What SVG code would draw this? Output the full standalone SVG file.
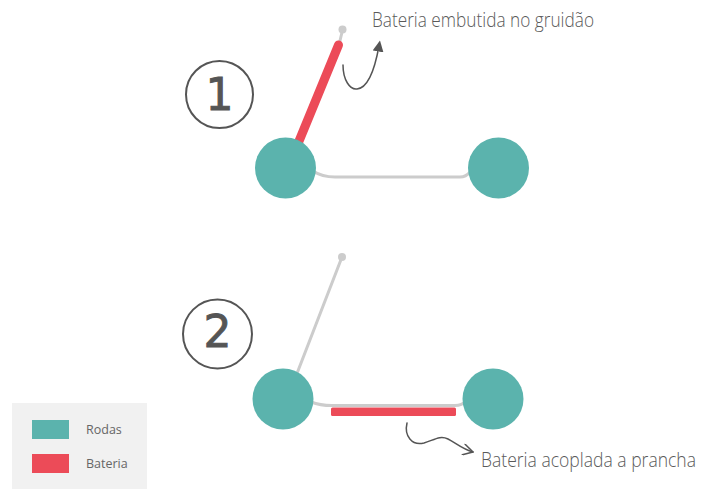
<svg xmlns="http://www.w3.org/2000/svg" width="701" height="489" viewBox="0 0 701 489">
  <style>
    .wheel { fill: #5bb3ad; }
    .battery { fill: #ec4b58; }
    .frame { fill: none; stroke: #cccccc; stroke-width: 3; stroke-linecap: round; }
    .knob { fill: #cccccc; }
    .badge { fill: none; stroke: #555555; stroke-width: 2; }
    .num { font-family: "DejaVu Sans", sans-serif; font-size: 44px; fill: #555555; stroke: #555555; stroke-width: 0.9; text-anchor: middle; }
    .note { font-family: "Open Sans", "Liberation Sans", sans-serif; font-size: 20px; fill: #5a5a5a; font-weight: 300; }
    .pointer { fill: none; stroke: #555555; stroke-width: 1.5; stroke-linecap: round; }
    .legend-text { font-family: "Open Sans", "Liberation Sans", sans-serif; font-size: 12.5px; fill: #666666; }
  </style>
  <defs>
    <marker id="tri" viewBox="0 0 10 10" refX="5" refY="5" markerWidth="11" markerHeight="11" orient="auto" markerUnits="userSpaceOnUse">
      <path d="M0,0 L10,5 L0,10 z" fill="#555555"/>
    </marker>
    <marker id="chev" viewBox="0 0 10 10" refX="9" refY="5" markerWidth="12" markerHeight="12" orient="auto" markerUnits="userSpaceOnUse">
      <path d="M1,0.5 L9,5 L1,9.5" fill="none" stroke="#555555" stroke-width="1.3" stroke-linecap="round" stroke-linejoin="round"/>
    </marker>
  </defs>

  <rect width="701" height="489" fill="#ffffff"/>

  <!-- Scooter 1: battery inside the handlebar stem -->
  <g id="scooter-1">
    <circle class="badge" cx="219.5" cy="94.5" r="33.5"/>
    <text class="num" x="219.5" y="110">1</text>
    <path class="frame" d="M313,171 Q322,177 335,177 L460,177 Q466,177 470,172"/>
    <line class="frame" x1="342.5" y1="30" x2="339" y2="45"/>
    <circle class="knob" cx="342.5" cy="29.5" r="4"/>
    <line x1="338.5" y1="45" x2="297" y2="146" stroke="#ec4b58" stroke-width="9" stroke-linecap="round"/>
    <circle class="wheel" cx="285.5" cy="168" r="30.5"/>
    <circle class="wheel" cx="498.5" cy="168" r="30.5"/>
  </g>

  <!-- Scooter 2: battery under the deck -->
  <g id="scooter-2">
    <circle class="badge" cx="217.5" cy="334" r="34.5"/>
    <text class="num" x="217.5" y="347">2</text>
    <line class="frame" x1="342" y1="257" x2="296" y2="376"/>
    <circle class="knob" cx="342" cy="257" r="4"/>
    <path class="frame" d="M311,402 Q320,405.5 332,405.5 L455,405.5 Q462,405.5 466,401"/>
    <rect class="battery" x="331" y="407.5" width="125" height="8.5" rx="1.5"/>
    <circle class="wheel" cx="283" cy="399" r="30.5"/>
    <circle class="wheel" cx="493" cy="399" r="30.5"/>
  </g>

  <!-- Callouts -->
  <g id="connectors">
    <path class="pointer" d="M343,65 C343,80 350,90 357,89 C368,88 375,68 379,46" marker-end="url(#tri)"/>
    <path class="pointer" d="M407,423 C404,436 412,446 424,443 C434,440 440,435 448,439 C456,443 462,449 473,452" marker-end="url(#chev)"/>
  </g>

  <g id="label-1">
    <text class="note" x="372" y="27" textLength="222" lengthAdjust="spacingAndGlyphs">Bateria embutida no gruidão</text>
  </g>
  <g id="label-2">
    <text class="note" x="481" y="467" textLength="215" lengthAdjust="spacingAndGlyphs">Bateria acoplada a prancha</text>
  </g>

  <!-- Legend -->
  <g id="legend">
    <rect x="12" y="403" width="135" height="86" fill="#f1f1f1"/>
    <rect class="wheel" x="32" y="420" width="37" height="19"/>
    <text class="legend-text" x="86" y="434">Rodas</text>
    <rect class="battery" x="32" y="454" width="37" height="19"/>
    <text class="legend-text" x="86" y="468">Bateria</text>
  </g>
</svg>
